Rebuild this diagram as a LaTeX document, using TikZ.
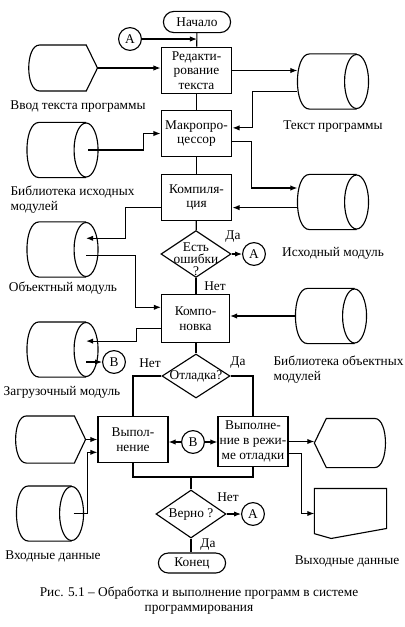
\documentclass[tikz,border=0pt]{standalone}
\usepackage{fontspec}
\setmainfont{Liberation Serif}
\usetikzlibrary{arrows.meta,shapes.geometric,shapes.misc}

\newcommand{\displeft}[1]{\draw ([xshift=-0.28cm]#1.north east) -- (#1.east) -- ([xshift=-0.28cm]#1.south east) -- ([xshift=0.3cm]#1.south west) .. controls ([xshift=-0.06cm]#1.south west) and ([xshift=-0.06cm]#1.north west) .. ([xshift=0.3cm]#1.north west) -- cycle;}
\newcommand{\dispright}[1]{\draw ([xshift=0.3cm]#1.north west) -- (#1.west) -- ([xshift=0.3cm]#1.south west) -- ([xshift=-0.3cm]#1.south east) .. controls ([xshift=0.06cm]#1.south east) and ([xshift=0.06cm]#1.north east) .. ([xshift=-0.3cm]#1.north east) -- cycle;}
\newcommand{\docshape}[1]{\draw (#1.north west) -- (#1.north east) -- ([yshift=0.25cm]#1.south east) -- ([xshift=0.42cm]#1.south west) -- ([yshift=0.12cm]#1.south west) -- cycle;}
\newcommand{\storeshape}[1]{\draw ([xshift=-0.3cm]#1.north east) -- ([xshift=0.3cm]#1.north west) .. controls ([xshift=-0.1cm]#1.north west) and ([xshift=-0.1cm]#1.south west) .. ([xshift=0.3cm]#1.south west) -- ([xshift=-0.3cm]#1.south east);
\draw ([xshift=-0.3cm]#1.east) ellipse [x radius=0.3cm,y radius=0.675cm];}

\begin{document}
\begin{tikzpicture}[x=0.025cm,y=-0.025cm,line width=0.8pt,font=\fontsize{9.5}{10.5}\selectfont]
\tikzstyle{ar}=[-{Latex[length=5pt,width=3.8pt]}]
\tikzstyle{box}=[rectangle,draw,minimum width=1.77cm,minimum height=1.17cm,align=center,inner sep=1pt]
\tikzstyle{term}=[rounded rectangle,draw,minimum width=1.75cm,minimum height=0.53cm,inner sep=1pt]
\tikzstyle{cond}=[diamond,draw,minimum width=1.75cm,minimum height=1.2cm,inner sep=0pt]
\tikzstyle{conn}=[circle,draw,minimum size=0.57cm,inner sep=0pt]
\tikzstyle{store}=[minimum width=1.75cm,minimum height=1.35cm,inner sep=0pt]
\tikzstyle{disp}=[minimum width=1.75cm,minimum height=1.15cm,inner sep=0pt]
\tikzstyle{lbl}=[inner sep=0pt]
\useasboundingbox (0,0) rectangle (405,627);

\node (1) at (197,22) [term] {Начало};
\node (2) at (196.5,70.5) [box] {Редакти-\\рование\\текста};
\node (3) at (196.5,133.5) [box] {Макропро-\\цессор};
\node (4) at (196.5,197.5) [box,minimum height=1.13cm] {Компиля-\\ция};
\node (5) at (195.5,318.5) [box,minimum width=1.7cm,minimum height=1.2cm] {Компо-\\новка};
\node (6) at (133,439.5) [box,minimum width=1.75cm] {Выпол-\\нение};
\node (7) at (253,441.5) [box,minimum width=1.75cm,minimum height=1.23cm] {Выполне-\\ние в режи-\\ме отладки};

\node (8) at (196,254) [cond,minimum height=1.17cm,label={[align=center,yshift=-0.12cm,font=\fontsize{9.5}{8.5}\selectfont]center:Есть\\ошибки\\?}] {};
\node (9) at (196,376) [cond,minimum width=1.7cm,minimum height=1.1cm,label=center:Отладка?] {};
\node (10) at (191,514) [cond,label=center:Верно ?] {};

\node (11) at (130,39) [conn] {A};
\node (12) at (254,254) [conn] {A};
\node (13) at (114,362) [conn] {B};
\node (14) at (193,442) [conn] {B};
\node (15) at (253,514) [conn] {A};
\node (16) at (192,563) [term,minimum height=0.5cm] {Конец};

\node (17) at (333,81.5) [store] {};
\node (18) at (62.5,150) [store] {};
\node (19) at (333,202) [store] {};
\node (20) at (62.5,249.5) [store] {};
\node (21) at (331,316) [store] {};
\node (22) at (62.5,349.5) [store] {};
\node (23) at (50,513.5) [store,minimum width=1.65cm] {};
\storeshape{17} \storeshape{18} \storeshape{19} \storeshape{20}
\storeshape{21} \storeshape{22} \storeshape{23}

\node (24) at (62.5,68) [disp,minimum width=1.72cm,minimum height=1.12cm] {};
\node (25) at (50,439.5) [disp] {};
\node (26) at (350.5,443) [disp,minimum width=1.78cm,minimum height=1.2cm] {};
\node (27) at (350.5,513.5) [disp,minimum width=1.78cm,minimum height=1.22cm] {};
\displeft{24} \displeft{25} \dispright{26} \docshape{27}

\node (30) at (78,107) [lbl] {Ввод текста программы};
\node (31) at (333,127) [lbl] {Текст программы};
\node (32) at (10,200) [lbl,anchor=west,align=left] {Библиотека исходных\\модулей};
\node (33) at (333,253) [lbl] {Исходный модуль};
\node (34) at (63,288) [lbl] {Объектный модуль};
\node (35) at (273,370) [lbl,anchor=west,align=left] {Библиотека объектных\\модулей};
\node (36) at (62,392) [lbl] {Загрузочный модуль};
\node (37) at (53,556) [lbl] {Входные данные};
\node (38) at (347,561) [lbl] {Выходные данные};
\node (39) at (199,601) [lbl,align=center] {Рис. 5.1 – Обработка и выполнение программ в системе\\программирования};

\node (40) at (233,237) [lbl] {Да};
\node (41) at (215,286) [lbl] {Нет};
\node (42) at (150,363) [lbl] {Нет};
\node (43) at (238,363) [lbl] {Да};
\node (44) at (228,497) [lbl] {Нет};
\node (45) at (208,545) [lbl] {Да};

\draw[ar] (11) -- (11 -| 1);
\draw (1) -- (2);
\draw[ar] (24.east) -- (24.east -| 2.west);
\draw[ar] (2.east) -- (2.east -| 17.west);
\draw (2) -- (3);
\draw[ar] ([yshift=-0.26cm]17.west) -| ([xshift=0.5cm,yshift=0.14cm]3.east) -- ([yshift=0.14cm]3.east);
\draw[ar] ([xshift=-0.25cm]18.east) -| ([xshift=-0.42cm]3.west) -- (3.west);
\draw[ar] ([yshift=-0.21cm]3.east) -| ([xshift=-1.15cm,yshift=0.35cm]19.west) -- ([yshift=0.35cm]19.west);
\draw (3) -- (4);
\draw[ar] ([yshift=-0.14cm]19.west) -- ([yshift=-0.14cm]19.west -| 4.east);
\draw[ar] ([yshift=-0.26cm]4.west) -| ([xshift=0.68cm,yshift=0.28cm]20.east) -- ([xshift=-0.3cm,yshift=0.28cm]20.east);
\draw[ar] ([xshift=-0.3cm,yshift=-0.14cm]20.east) -| ([xshift=-0.63cm,yshift=0.28cm]5.west) -- ([yshift=0.28cm]5.west);
\draw (4) -- (8);
\draw[ar] (8) -- (12);
\draw (8.south) -- (8.south |- 5.north);
\draw[ar] (21.west) -- (21.west -| 5.east);
\draw[ar] ([yshift=-0.25cm]5.west) -| ([xshift=0.95cm,yshift=0.21cm]22.east) -- ([xshift=-0.3cm,yshift=0.21cm]22.east);
\draw[ar] ([xshift=-0.3cm]13.west -| 22.east) -- (13);
\draw (9.north |- 5.south) -- (9.north);
\draw (9.west) -| (6.north);
\draw (9.east) -| (7.north);
\draw[ar] (14) -- (14 -| 6.east);
\draw[ar] (14) -- (14 -| 7.west);
\draw[ar] (25.east) -- (25.east -| 6.west);
\draw[ar] ([xshift=-0.25cm]23.east) -| ([xshift=-0.25cm,yshift=-0.32cm]6.west) -- ([yshift=-0.32cm]6.west);
\draw[ar] (7.east) -- (7.east -| 26.west);
\draw[ar] ([yshift=-0.31cm]7.east) -| ([xshift=-0.33cm]27.west) -- (27.west);
\coordinate (46) at (191,477);
\draw (6.south) |- (46) -| (7.south);
\draw (46) -- (10);
\draw[ar] (10) -- (15);
\draw (10.south) -- (10.south |- 16.north);
\end{tikzpicture}
\end{document}
